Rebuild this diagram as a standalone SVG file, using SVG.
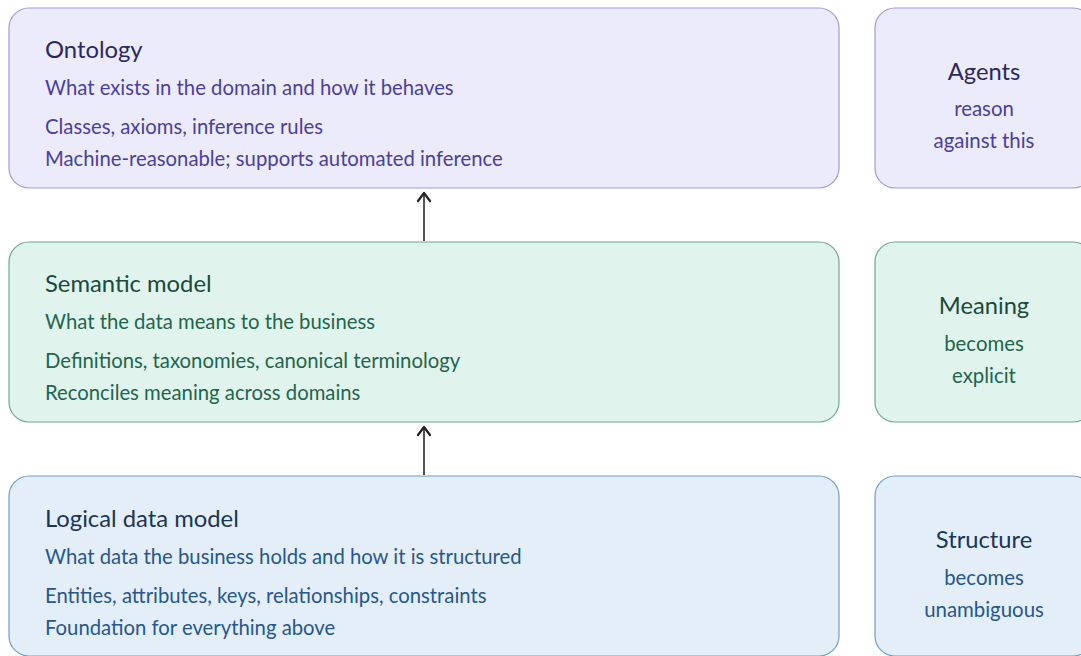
<svg xmlns="http://www.w3.org/2000/svg" width="1081" height="656" viewBox="0 0 1081 656">
  <style>
    text { font-family: Lato, "Noto Sans", "Liberation Sans", sans-serif; }
    .title { font-size: 23.8px; }
    .sub { font-size: 20.3px; }
    .side-title { font-size: 23.7px; text-anchor: middle; }
    .side-sub { font-size: 20.4px; text-anchor: middle; }
    .onto rect { fill: #ecebfb; stroke: #9f99dc; stroke-width: 1.2; }
    .onto .title, .onto .side-title { fill: #2b2860; }
    .onto .sub, .onto .side-sub { fill: #4a3f9e; }
    .sem rect { fill: #e0f3ec; stroke: #6aaa94; stroke-width: 1.2; }
    .sem .title, .sem .side-title { fill: #1b4a3d; }
    .sem .sub, .sem .side-sub { fill: #1e664d; }
    .log rect { fill: #e3eef9; stroke: #6e9dcc; stroke-width: 1.2; }
    .log .title, .log .side-title { fill: #1b3557; }
    .log .sub, .log .side-sub { fill: #27578c; }
    .conn { stroke: #555; stroke-width: 2; fill: none; }
    .head { stroke: #222; stroke-width: 2.2; fill: none; stroke-linecap: round; stroke-linejoin: round; }
  </style>
  <rect width="1081" height="656" fill="#ffffff"/>

  <!-- top layer: ontology -->
  <g id="ontology" class="onto">
    <rect x="9" y="8" width="830" height="180" rx="20"/>
    <text class="title" x="45" y="58">Ontology</text>
    <text class="sub" x="45" y="95">What exists in the domain and how it behaves</text>
    <text class="sub" x="45" y="134">Classes, axioms, inference rules</text>
    <text class="sub" x="45" y="166">Machine-reasonable; supports automated inference</text>
  </g>
  <g id="agents" class="onto">
    <rect x="875" y="8" width="218" height="180" rx="20"/>
    <text class="side-title" x="984" y="80">Agents</text>
    <text class="side-sub" x="984" y="116">reason</text>
    <text class="side-sub" x="984" y="148">against this</text>
  </g>

  <!-- middle layer: semantic model -->
  <g id="semantic-model" class="sem">
    <rect x="9" y="242" width="830" height="180" rx="20"/>
    <text class="title" x="45" y="292">Semantic model</text>
    <text class="sub" x="45" y="329">What the data means to the business</text>
    <text class="sub" x="45" y="368">Definitions, taxonomies, canonical terminology</text>
    <text class="sub" x="45" y="400">Reconciles meaning across domains</text>
  </g>
  <g id="meaning" class="sem">
    <rect x="875" y="242" width="218" height="180" rx="20"/>
    <text class="side-title" x="984" y="314">Meaning</text>
    <text class="side-sub" x="984" y="351">becomes</text>
    <text class="side-sub" x="984" y="383">explicit</text>
  </g>

  <!-- bottom layer: logical data model -->
  <g id="logical-data-model" class="log">
    <rect x="9" y="476" width="830" height="180" rx="20"/>
    <text class="title" x="45" y="527">Logical data model</text>
    <text class="sub" x="45" y="564">What data the business holds and how it is structured</text>
    <text class="sub" x="45" y="603">Entities, attributes, keys, relationships, constraints</text>
    <text class="sub" x="45" y="635">Foundation for everything above</text>
  </g>
  <g id="structure" class="log">
    <rect x="875" y="476" width="218" height="180" rx="20"/>
    <text class="side-title" x="984" y="548">Structure</text>
    <text class="side-sub" x="984" y="585">becomes</text>
    <text class="side-sub" x="984" y="617">unambiguous</text>
  </g>

  <g id="connectors">
    <line class="conn" x1="424" y1="241" x2="424" y2="194"/>
    <polyline class="head" points="418,201 424,193 430,201"/>
    <line class="conn" x1="424" y1="475" x2="424" y2="428"/>
    <polyline class="head" points="418,435 424,427 430,435"/>
  </g>
</svg>
